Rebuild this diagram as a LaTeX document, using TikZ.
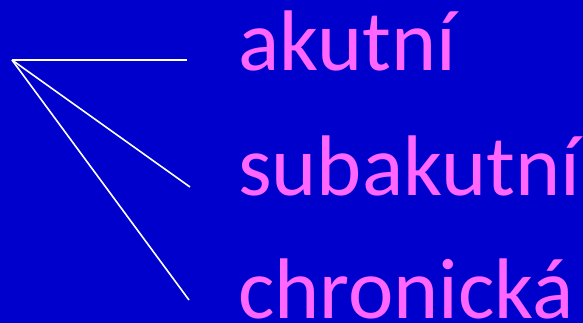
\documentclass[tikz,border=0pt]{standalone}
\usepackage{fontspec}
\setmainfont{Carlito}
\definecolor{bg}{HTML}{0000CC}
\definecolor{mag}{HTML}{FF66FF}
\begin{document}
\begin{tikzpicture}[x=1pt,y=-1pt,
  lbl/.style={anchor=base west,inner sep=0pt,text=mag,font=\fontsize{86}{90}\selectfont},
  ray/.style={draw=white,line width=1.6pt}]
\fill[bg] (0,0) rectangle (583,323);
\useasboundingbox (0,0) rectangle (583,323);
\coordinate (o) at (12,60);
\coordinate (e1) at (187,60);
\coordinate (e2) at (190,187);
\coordinate (e3) at (189,300);
\draw[ray] (o) -- (e1);
\draw[ray] (o) -- (e2);
\draw[ray] (o) -- (e3);
\node[lbl] (t1) at (238,71) {akutní};
\node[lbl] (t2) at (238,195) {subakutní};
\node[lbl] (t3) at (238,318) {chronická};
\end{tikzpicture}
\end{document}
